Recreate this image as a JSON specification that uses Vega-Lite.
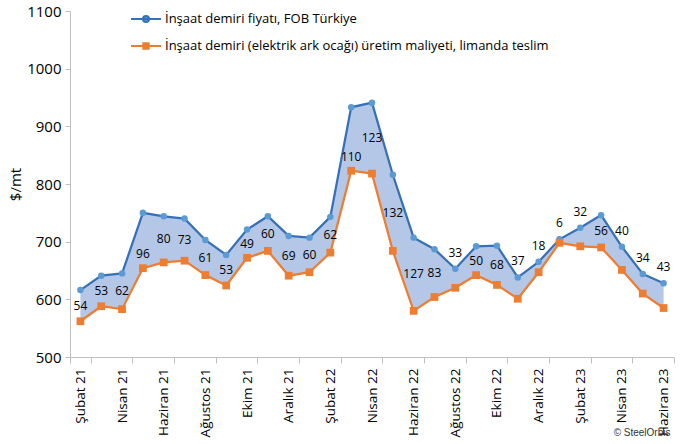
{
  "$schema": "https://vega.github.io/schema/vega-lite/v6.json",
  "width": 604,
  "height": 346,
  "autosize": {"type": "none"},
  "padding": {"left": 70, "top": 11, "right": 6, "bottom": 87},
  "background": "white",
  "config": {
    "view": {"stroke": null},
    "font": "Open Sans",
    "axis": {"labelFont": "Open Sans", "titleFont": "Open Sans", "labelColor": "#000", "titleColor": "#000", "domainColor": "#bfbfbf", "tickColor": "#bfbfbf", "grid": false}
  },
  "title": {"text": "© SteelOrbis", "orient": "bottom", "anchor": "end", "fontSize": 10, "font": "Liberation Sans", "fontWeight": "normal", "color": "#333", "offset": 4, "dy": -13, "dx": -4},
  "data": {"values": [
    {"ay": "Şubat 21", "fob": 616, "maliyet": 562, "fark": 54},
    {"ay": "Mart 21", "fob": 641, "maliyet": 588, "fark": 53},
    {"ay": "Nisan 21", "fob": 645, "maliyet": 583, "fark": 62},
    {"ay": "Mayıs 21", "fob": 750, "maliyet": 654, "fark": 96},
    {"ay": "Haziran 21", "fob": 744, "maliyet": 664, "fark": 80},
    {"ay": "Temmuz 21", "fob": 740, "maliyet": 667, "fark": 73},
    {"ay": "Ağustos 21", "fob": 703, "maliyet": 642, "fark": 61},
    {"ay": "Eylül 21", "fob": 677, "maliyet": 624, "fark": 53},
    {"ay": "Ekim 21", "fob": 721, "maliyet": 672, "fark": 49},
    {"ay": "Kasım 21", "fob": 744, "maliyet": 684, "fark": 60},
    {"ay": "Aralık 21", "fob": 710, "maliyet": 641, "fark": 69},
    {"ay": "Ocak 22", "fob": 707, "maliyet": 647, "fark": 60},
    {"ay": "Şubat 22", "fob": 743, "maliyet": 681, "fark": 62},
    {"ay": "Mart 22", "fob": 933, "maliyet": 823, "fark": 110},
    {"ay": "Nisan 22", "fob": 941, "maliyet": 818, "fark": 123},
    {"ay": "Mayıs 22", "fob": 816, "maliyet": 684, "fark": 132},
    {"ay": "Haziran 22", "fob": 707, "maliyet": 580, "fark": 127},
    {"ay": "Temmuz 22", "fob": 687, "maliyet": 604, "fark": 83},
    {"ay": "Ağustos 22", "fob": 653, "maliyet": 620, "fark": 33},
    {"ay": "Eylül 22", "fob": 692, "maliyet": 642, "fark": 50},
    {"ay": "Ekim 22", "fob": 693, "maliyet": 625, "fark": 68},
    {"ay": "Kasım 22", "fob": 638, "maliyet": 601, "fark": 37},
    {"ay": "Aralık 22", "fob": 665, "maliyet": 647, "fark": 18},
    {"ay": "Ocak 23", "fob": 704, "maliyet": 698, "fark": 6},
    {"ay": "Şubat 23", "fob": 724, "maliyet": 692, "fark": 32},
    {"ay": "Mart 23", "fob": 746, "maliyet": 690, "fark": 56},
    {"ay": "Nisan 23", "fob": 691, "maliyet": 651, "fark": 40},
    {"ay": "Mayıs 23", "fob": 644, "maliyet": 610, "fark": 34},
    {"ay": "Haziran 23", "fob": 628, "maliyet": 585, "fark": 43}
  ]},
  "encoding": {
    "x": {
      "field": "ay", "type": "ordinal", "sort": null,
      "scale": {"type": "band", "paddingInner": 0, "paddingOuter": 0},
      "axis": {
        "title": null,
        "values": ["Şubat 21", "Nisan 21", "Haziran 21", "Ağustos 21", "Ekim 21", "Aralık 21", "Şubat 22", "Nisan 22", "Haziran 22", "Ağustos 22", "Ekim 22", "Aralık 22", "Şubat 23", "Nisan 23", "Haziran 23"],
        "labelAngle": 270, "labelAlign": "right", "labelBaseline": "middle",
        "labelFontSize": 13.5, "labelPadding": 5, "tickSize": 6, "tickBand": "extent",
        "labelOverlap": false
      }
    }
  },
  "layer": [
    {
      "mark": {"type": "area", "color": "#b4c7e7", "opacity": 1},
      "encoding": {
        "y": {"field": "fob", "type": "quantitative", "scale": {"domain": [500, 1100], "nice": false, "zero": false},
          "axis": {"title": "$/mt", "values": [500, 600, 700, 800, 900, 1000, 1100], "format": "d", "labelFontSize": 15, "titleFontSize": 15, "titleFontWeight": "normal", "tickSize": 5, "labelPadding": 4, "titlePadding": 3}},
        "y2": {"field": "maliyet"}
      }
    },
    {
      "mark": {"type": "line", "strokeWidth": 2.25},
      "encoding": {
        "y": {"field": "fob", "type": "quantitative"},
        "color": {"datum": "İnşaat demiri fiyatı, FOB Türkiye", "type": "nominal",
          "scale": {"domain": ["İnşaat demiri fiyatı, FOB Türkiye", "İnşaat demiri (elektrik ark ocağı) üretim maliyeti, limanda teslim"], "range": ["#3671b8", "#ed7d31"]},
          "legend": {
            "title": null, "orient": "none", "legendX": 60, "legendY": -8,
            "labelFont": "Open Sans", "labelFontSize": 13, "labelColor": "#000", "labelOffset": 3,
            "symbolSize": 900, "symbolStrokeWidth": 2, "rowPadding": 4, "padding": 0,
            "labelLimit": 600,
            "encoding": {"symbols": {
              "shape": {"value": {"expr": "indexof(datum.value, 'FOB') >= 0 ? 'M-1,0L1,0M-0.2,0A0.2,0.2 0 1,0 0.2,0A0.2,0.2 0 1,0 -0.2,0Z' : 'M-1,0L1,0M-0.18,-0.18L0.18,-0.18L0.18,0.18L-0.18,0.18Z'"}},
              "fill": {"value": {"expr": "indexof(datum.value, 'FOB') >= 0 ? '#5b9bd5' : '#ed7d31'"}}
            }}
          }
        }
      }
    },
    {
      "mark": {"type": "line", "strokeWidth": 2.25},
      "encoding": {
        "y": {"field": "maliyet", "type": "quantitative"},
        "color": {"datum": "İnşaat demiri (elektrik ark ocağı) üretim maliyeti, limanda teslim", "type": "nominal"}
      }
    },
    {
      "mark": {"type": "point", "shape": "circle", "filled": true, "size": 42, "color": "#5b9bd5", "opacity": 1},
      "encoding": {"y": {"field": "fob", "type": "quantitative"}}
    },
    {
      "mark": {"type": "point", "shape": "square", "filled": true, "size": 60, "color": "#ed7d31", "opacity": 1},
      "encoding": {"y": {"field": "maliyet", "type": "quantitative"}}
    },
    {
      "transform": [{"filter": "datum.fark >= 45 && datum.ay != 'Mayıs 21' && datum.ay != 'Mart 22'"}, {"calculate": "(datum.fob + datum.maliyet) / 2", "as": "orta"}],
      "mark": {"type": "text", "font": "Open Sans", "fontSize": 12, "color": "#000", "baseline": "middle"},
      "encoding": {"y": {"field": "orta", "type": "quantitative"}, "text": {"field": "fark", "type": "quantitative"}}
    },
    {
      "transform": [{"filter": "datum.ay == 'Mayıs 21' || datum.ay == 'Mart 22'"}],
      "mark": {"type": "text", "font": "Open Sans", "fontSize": 12, "color": "#000", "baseline": "middle", "dy": -14},
      "encoding": {"y": {"field": "maliyet", "type": "quantitative"}, "text": {"field": "fark", "type": "quantitative"}}
    },
    {
      "transform": [{"filter": "datum.fark < 45"}],
      "mark": {"type": "text", "font": "Open Sans", "fontSize": 12, "color": "#000", "baseline": "middle", "dy": -16},
      "encoding": {"y": {"field": "fob", "type": "quantitative"}, "text": {"field": "fark", "type": "quantitative"}}
    }
  ]
}
